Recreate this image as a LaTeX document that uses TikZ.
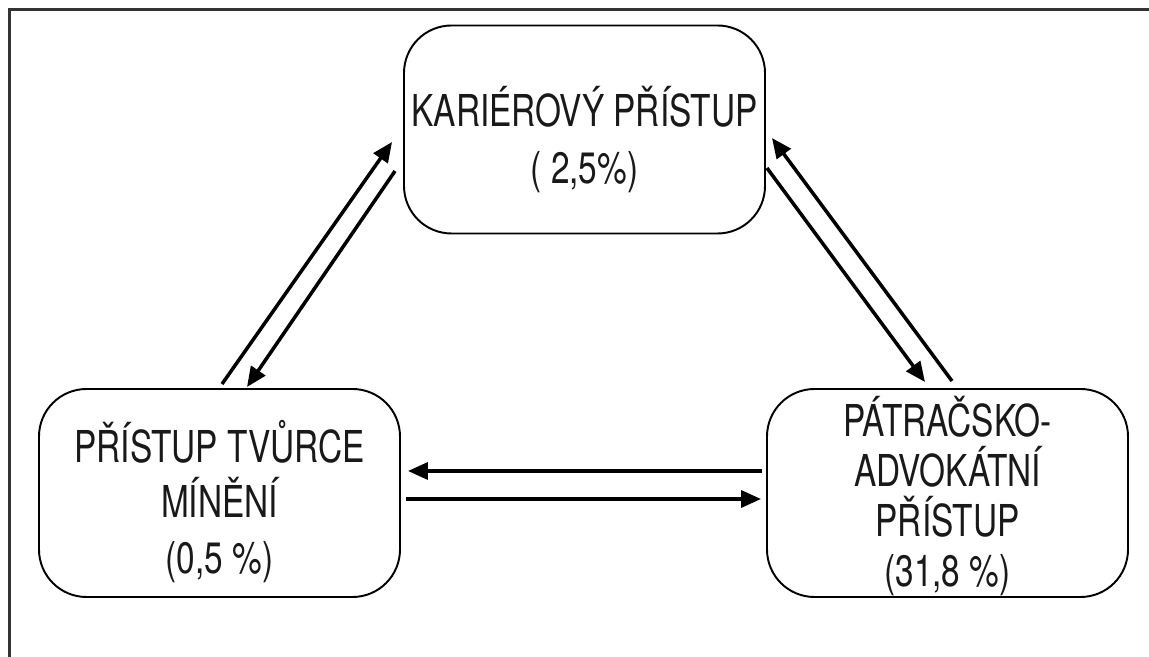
\documentclass[tikz,border=0pt]{standalone}
\usepackage{fontspec}
\setmainfont{TeX Gyre Heros}[FakeStretch=0.76]
\usetikzlibrary{arrows.meta}

\begin{document}
\begin{tikzpicture}[
    >={Triangle[length=0.4cm, width=0.34cm]},
    approach/.style={draw, rectangle, rounded corners=0.95cm, line width=1.1pt,
      minimum width=7.22cm, minimum height=4.16cm},
    caption/.style={align=center, font=\fontsize{25}{32.4}\selectfont, text=black!90},
    flow/.style={->, line width=2pt}
  ]
    \useasboundingbox (0,0) rectangle (22.98,13.14);

    % rám
    \draw[line width=1.3pt, black!80] (0.19,0) -- (0.19,12.95) -- (22.98,12.95);

    % tři přístupy
    \node[approach] (kariera) at (11.69,10.55) {};
    \node[approach] (tvurce) at (4.39,3.28) {};
    \node[approach] (patrac) at (18.95,3.28) {};

    \node (karieraText) at (kariera.center) [caption, yshift=-0.2cm] {KARIÉROVÝ PŘÍSTUP\\( 2,5\%)};
    \node (tvurceText) at (tvurce.center) [caption, yshift=-0.17cm,
      font=\fontsize{25}{31.8}\selectfont] {PŘÍSTUP TVŮRCE\\MÍNĚNÍ\\(0,5 \%)};
    \node (patracText) at (patrac.center) [caption, yshift=-0.06cm,
      font=\fontsize{25}{28.4}\selectfont] {PÁTRAČSKO-\\ADVOKÁTNÍ\\PŘÍSTUP\\(31,8 \%)};

    % šipky mezi přístupy
    \draw[flow] ([xshift=0.05cm, yshift=0.08cm]tvurce.north) -- ([xshift=-0.22cm, yshift=-0.25cm]kariera.west);
    \draw[flow] ([xshift=-0.16cm, yshift=-0.83cm]kariera.west) -- ([xshift=0.55cm, yshift=0.02cm]tvurce.north);

    \draw[flow] ([xshift=0.09cm, yshift=0.14cm]patrac.north) -- ([xshift=0.12cm, yshift=-0.17cm]kariera.east);
    \draw[flow] ([xshift=0.02cm, yshift=-0.77cm]kariera.east) -- ([xshift=-0.45cm, yshift=0.12cm]patrac.north);

    \draw[flow] ([xshift=-0.08cm, yshift=0.44cm]patrac.west) -- ([xshift=0.14cm, yshift=0.44cm]tvurce.east);
    \draw[flow] ([xshift=0.10cm, yshift=-0.12cm]tvurce.east) -- ([xshift=-0.10cm, yshift=-0.12cm]patrac.west);
  \end{tikzpicture}
\end{document}
